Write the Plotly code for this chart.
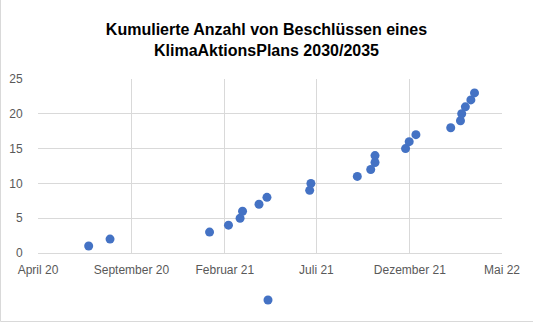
import plotly.graph_objects as go

dates = ["2020-06-23", "2020-07-28", "2021-01-07", "2021-02-07", "2021-02-26", "2021-03-02",
         "2021-03-29", "2021-04-11", "2021-06-20", "2021-06-22", "2021-09-06", "2021-09-28",
         "2021-10-05", "2021-10-05", "2021-11-24", "2021-11-30", "2021-12-11", "2022-02-06",
         "2022-02-22", "2022-02-24", "2022-03-02", "2022-03-11", "2022-03-17"]
counts = list(range(1, 24))

tick_vals = ["2020-04-01", "2020-09-01", "2021-02-01", "2021-07-01", "2021-12-01", "2022-05-01"]
tick_text = ["April 20", "September 20", "Februar 21", "Juli 21", "Dezember 21", "Mai 22"]

W, H = 533, 322
ml, mr, mt, mb = 38, 31, 79, 69
pw, ph = W - ml - mr, H - mt - mb

fig = go.Figure()
fig.add_trace(go.Scatter(
    x=dates, y=counts, mode="markers", name=" ",
    marker=dict(color="#4472C4", size=9, line=dict(width=0)),
    showlegend=True,
))

grid = "#d9d9d9"
tickfont = dict(family="Liberation Sans, Arial, sans-serif", size=12, color="#595959")

fig.update_layout(
    width=W, height=H,
    margin=dict(l=ml, r=mr, t=mt, b=mb, autoexpand=False),
    paper_bgcolor="white", plot_bgcolor="white",
    title=dict(
        text="<b>Kumulierte Anzahl von Beschlüssen eines<br>KlimaAktionsPlans 2030/2035</b>",
        x=0.5, xanchor="center", y=1 - 35 / H, yanchor="top",
        font=dict(family="Liberation Sans, Arial, sans-serif", size=16, color="#000000"),
    ),
    xaxis=dict(
        type="date", range=["2020-04-01", "2022-05-01"],
        tickmode="array", tickvals=tick_vals, ticktext=tick_text,
        showgrid=True, gridcolor=grid, gridwidth=1,
        showline=True, linecolor=grid, linewidth=1, mirror=False,
        ticks="outside", ticklen=6, tickcolor="rgba(0,0,0,0)",
        tickfont=tickfont, zeroline=False,
    ),
    yaxis=dict(
        range=[0, 25], dtick=5, tick0=0,
        showgrid=True, gridcolor=grid, gridwidth=1,
        showline=False, zeroline=False,
        ticks="outside", ticklen=12, tickcolor="rgba(0,0,0,0)",
        tickfont=tickfont,
    ),
    showlegend=True,
    legend=dict(
        orientation="h", x=(268 - 20 - ml) / pw, xanchor="left",
        y=-(299 - 13.5 - (mt + ph)) / ph, yanchor="top",
        font=tickfont, bgcolor="rgba(0,0,0,0)",
    ),
    shapes=[
        dict(type="rect", xref="paper", yref="paper",
             x0=-(ml - 0.5) / pw, x1=(W - ml + 5) / pw,
             y0=-(mb - 0.5) / ph, y1=(H - mb + 5) / ph,
             line=dict(color="#d9d9d9", width=1), layer="below"),
    ],
)

fig.write_html("out.html")
